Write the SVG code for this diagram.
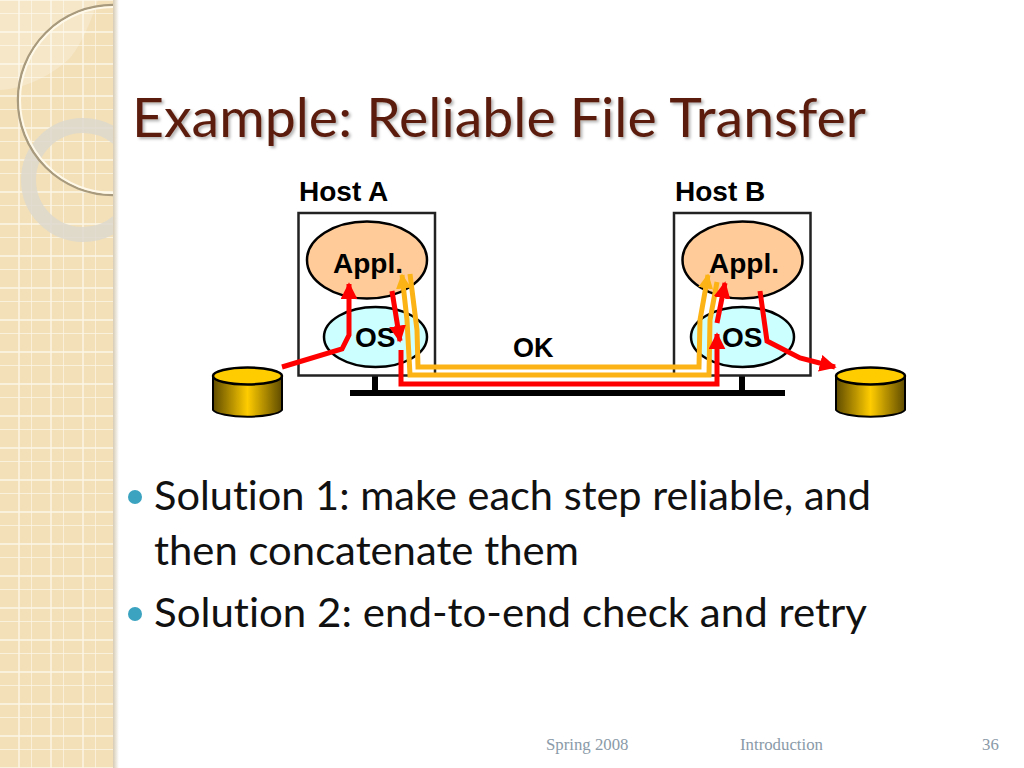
<svg xmlns="http://www.w3.org/2000/svg" width="1024" height="768" viewBox="0 0 1024 768">
<style>
.lbl{font-family:"Liberation Sans",Arial,sans-serif;font-weight:bold;font-size:28px;fill:#000}
.title{font-family:"Lato","Noto Sans",sans-serif;font-size:55px;fill:#5c1f10;font-variant-ligatures:none}
.body{font-family:"Lato","Noto Sans",sans-serif;font-size:41px;fill:#111;font-variant-ligatures:none}
.foot{font-family:"Liberation Serif",serif;font-size:16.800px;fill:#8a9aa8}
.box{fill:#fff;stroke:#222;stroke-width:2.500}
.ell{stroke:#000;stroke-width:2.500}
.red{fill:none;stroke:#f00;stroke-width:5}
.yel{fill:none;stroke:#fcb315;stroke-width:5}
.net{fill:none;stroke:#000;stroke-width:6}
.bul{fill:#3ba3c0}
</style>
<defs>
<pattern id="grid" width="32" height="32" patternUnits="userSpaceOnUse" patternTransform="translate(0,13)">
<rect width="32" height="32" fill="#f3e0b9"/>
<path d="M19 0V32M32 0V32M0 0H32M0 19H32" stroke="#fdf7e8" stroke-width="1.400"/>
</pattern>
<linearGradient id="shadow" x1="0" x2="1" y1="0" y2="0"><stop offset="0" stop-color="#d6cbb4"/><stop offset="1" stop-color="#fff"/></linearGradient>
<linearGradient id="can" x1="0" x2="1" y1="0" y2="0"><stop offset="0" stop-color="#5f4b00"/><stop offset=".5" stop-color="#ffcc00"/><stop offset="1" stop-color="#5f4b00"/></linearGradient>
<marker id="ar" viewBox="0 0 10 10" refX="9" refY="5" markerWidth="3.400" markerHeight="3.400" orient="auto"><path d="M0 0L10 5L0 10z" fill="#f00"/></marker>
<marker id="ay" viewBox="0 0 10 10" refX="9" refY="5" markerWidth="3" markerHeight="3" orient="auto"><path d="M0 0L10 5L0 10z" fill="#fcb315"/></marker>
<clipPath id="side"><rect width="113" height="768"/></clipPath>
<filter id="ts" x="-5%" y="-20%" width="110%" height="140%"><feDropShadow dx="2" dy="2" stdDeviation="1.500" flood-color="#000" flood-opacity=".3"/></filter>
</defs>
<rect width="1024" height="768" fill="#fff"/>
<g id="sidebar" clip-path="url(#side)">
<rect width="113" height="768" fill="url(#grid)"/>
<path d="M0 0H98C88 30 80 45 70 58C55 72 30 88 0 90z" fill="#fff" opacity=".22"/>
<circle cx="83" cy="180" r="54.500" fill="none" stroke="#dcd8cc" stroke-width="15" opacity=".85"/>
<circle cx="113" cy="100" r="95" fill="none" stroke="#a89a7c" stroke-width="2.500"/>
<circle cx="113" cy="100" r="93" fill="none" stroke="#fff9ea" stroke-width="2"/>
</g>
<rect x="113" width="6" height="768" fill="url(#shadow)"/>
<text id="title" class="title" x="132" y="137" textLength="734" lengthAdjust="spacingAndGlyphs" filter="url(#ts)">Example: Reliable File Transfer</text>
<g id="network"><path class="net" d="M350 393H785M375 376V393M742 376V393"/></g>
<g id="hostA">
<rect class="box" x="298.500" y="213" width="136.500" height="162.500"/>
<ellipse class="ell" cx="367" cy="260" rx="60" ry="38.500" fill="#ffcc99"/>
<ellipse class="ell" cx="375.500" cy="337" rx="51.500" ry="30" fill="#ccffff"/>
<text class="lbl" x="299" y="201">Host A</text>
<text class="lbl" x="333" y="273">Appl.</text>
<text class="lbl" x="355" y="347">OS</text>
</g>
<g id="hostB">
<rect class="box" x="674" y="213" width="136.500" height="162.500"/>
<ellipse class="ell" cx="742.500" cy="260" rx="60" ry="38.500" fill="#ffcc99"/>
<ellipse class="ell" cx="742.500" cy="337" rx="51.500" ry="30" fill="#ccffff"/>
<text class="lbl" x="675" y="201">Host B</text>
<text class="lbl" x="709" y="273">Appl.</text>
<text class="lbl" x="722" y="347">OS</text>
</g>
<g id="diskA">
<path d="M213 376V410A35 8 0 0 0 282 410V376z" fill="url(#can)" stroke="#000" stroke-width="2"/>
<ellipse cx="247.500" cy="376" rx="34.500" ry="8.500" fill="#ffcc00" stroke="#000" stroke-width="2.500"/>
</g>
<g id="diskB">
<path d="M836 376V410A35 8 0 0 0 905 410V376z" fill="url(#can)" stroke="#000" stroke-width="2"/>
<ellipse cx="870.500" cy="376" rx="34.500" ry="8.500" fill="#ffcc00" stroke="#000" stroke-width="2.500"/>
</g>
<g id="connectors">
<path class="yel" marker-end="url(#ay)" d="M410 274L417 330L418 367H699L700 320L708 275"/>
<path class="yel" marker-end="url(#ay)" d="M717 282L710 320L709 375H410L407 320L402 275"/>
<path class="red" marker-end="url(#ar)" d="M282 367L342 349L349 335V284"/>
<path class="red" marker-end="url(#ar)" d="M392 291L400 341"/>
<path class="red" marker-end="url(#ar)" d="M401 350V384H717V334"/>
<path class="red" marker-end="url(#ar)" d="M717 323L725 283"/>
<path class="red" marker-end="url(#ar)" d="M760 291L767 341L800 358L835 367"/>
</g>
<text id="ok" class="lbl" x="513" y="357" style="font-size:27px">OK</text>
<g id="bullets">
<circle class="bul" cx="135" cy="497" r="7"/>
<circle class="bul" cx="135" cy="614" r="7"/>
<text class="body" x="154" y="510" textLength="717" lengthAdjust="spacingAndGlyphs">Solution 1: make each step reliable, and</text>
<text class="body" x="154" y="565" textLength="425" lengthAdjust="spacingAndGlyphs">then concatenate them</text>
<text class="body" x="154" y="627" textLength="713" lengthAdjust="spacingAndGlyphs">Solution 2: end-to-end check and retry</text>
</g>
<g id="footer">
<text class="foot" x="546" y="750">Spring 2008</text>
<text class="foot" x="740" y="750">Introduction</text>
<text class="foot" x="982" y="750">36</text>
</g>
</svg>
